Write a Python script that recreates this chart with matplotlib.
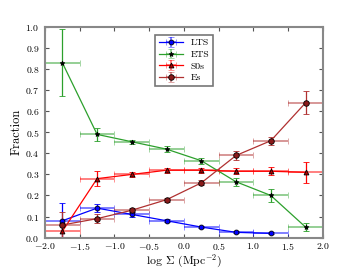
import matplotlib
matplotlib.use('Agg')
import matplotlib.pyplot as plt
import numpy as np

plt.rcParams['font.family'] = 'cmr10'
plt.rcParams['mathtext.fontset'] = 'cm'
plt.rcParams['axes.formatter.use_mathtext'] = True

x = [-1.75, -1.25, -0.75, -0.25, 0.25, 0.75, 1.25, 1.75]
xerr = 0.25

lts = [0.08, 0.14, 0.11, 0.08, 0.05, 0.025, 0.02]
lts_err = [0.085, 0.02, 0.01, 0.008, 0.006, 0.005, 0.005]
ets = [0.83, 0.49, 0.455, 0.42, 0.365, 0.265, 0.20, 0.05]
ets_err = [0.16, 0.03, 0.01, 0.015, 0.015, 0.02, 0.03, 0.02]
s0s = [0.03, 0.28, 0.30, 0.32, 0.32, 0.315, 0.315, 0.31]
s0s_err = [0.04, 0.035, 0.012, 0.012, 0.012, 0.015, 0.02, 0.05]
es = [0.06, 0.09, 0.13, 0.18, 0.26, 0.39, 0.46, 0.64]
es_err = [0.06, 0.02, 0.01, 0.01, 0.012, 0.02, 0.02, 0.055]

fig = plt.figure(figsize=(3.6, 2.7), dpi=100)
ax = fig.add_axes([0.125, 0.12, 0.772, 0.78])


def draw(xs, ys, ye, color, marker, mfc, label, ms):
    c = ax.errorbar(xs, ys, xerr=xerr, yerr=ye, color=color, ecolor=color,
                    marker=marker, mfc=mfc, mec='k', ms=ms, lw=0.9,
                    elinewidth=0.9, capsize=2, capthick=0.9, label=label,
                    mew=0.6)
    line, caps, bars = c.lines
    bars[0].set_alpha(0.5)
    bars[0].set_linewidth(1.4)
    for cl in caps[:2]:
        cl.set_alpha(0.5)
    return c


draw(x[:7], lts, lts_err, 'b', 'o', 'b', 'LTS', 3.5)
draw(x, ets, ets_err, '#2ca02c', '*', 'k', 'ETS', 3.5)
draw(x, s0s, s0s_err, 'r', '^', '#b00000', 'S0s', 3.5)
draw(x, es, es_err, '#b03030', 'o', '#8b1a1a', 'Es', 4)

ax.set_xlim(-2.0, 2.0)
ax.set_ylim(0.0, 1.0)
ax.set_xticks(np.arange(-2.0, 2.01, 0.5))
ax.set_yticks(np.arange(0.0, 1.01, 0.1))
ax.tick_params(direction='in', top=True, right=True, labelsize=7, length=3,
               color='#555555', pad=2.5)
ax.tick_params(axis='y', pad=4)
for s in ax.spines.values():
    s.set_color('#888888')
    s.set_linewidth(1.5)
ax.set_xlabel(r'log $\Sigma$ (Mpc$^{-2}$)', fontsize=8.5, labelpad=0.5)
ax.set_ylabel('Fraction', fontsize=9, labelpad=2)
leg = ax.legend(loc='upper center', fontsize=7, fancybox=False,
                handlelength=2.5, borderpad=0.35, labelspacing=0.3,
                bbox_to_anchor=(0.5, 0.985))
leg.get_frame().set_edgecolor('#555555')
leg.get_frame().set_linewidth(1.2)

fig.savefig('out.png', dpi=100)
